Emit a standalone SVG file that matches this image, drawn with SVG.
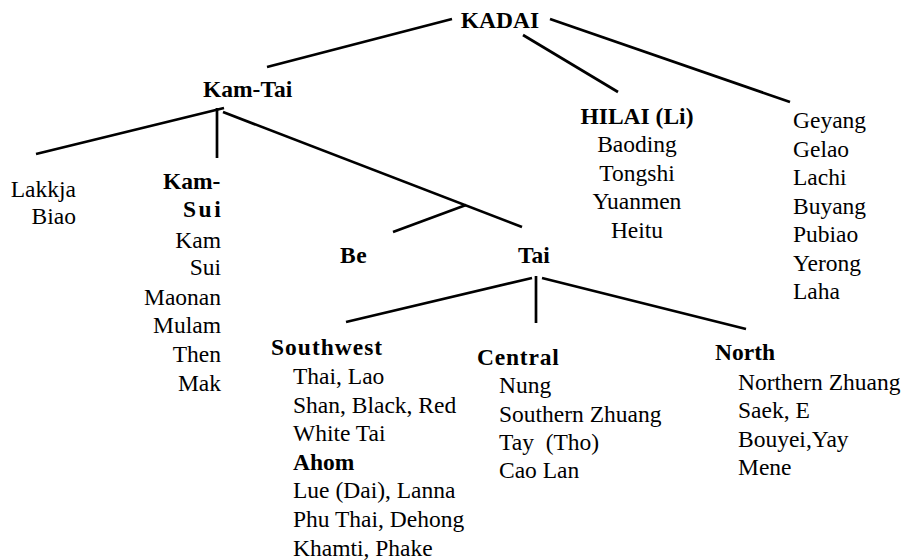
<svg xmlns="http://www.w3.org/2000/svg" width="907" height="560" viewBox="0 0 907 560">
<style>
text{font-family:'Liberation Serif','Times New Roman',serif;font-size:23.5px;fill:#000}
.b{font-weight:bold}
.e{text-anchor:end}
.m{text-anchor:middle}
.c line{stroke:#000;stroke-width:2.7;stroke-linecap:butt}
</style>
<rect width="907" height="560" fill="#fff"/>
<g class="c" id="connectors">
<line x1="452" y1="19" x2="267" y2="67"/>
<line x1="523" y1="35" x2="618" y2="92"/>
<line x1="550" y1="19" x2="790" y2="102"/>
<line x1="224" y1="108" x2="36" y2="154"/>
<line x1="217" y1="108" x2="217" y2="158"/>
<line x1="223" y1="112" x2="522" y2="227"/>
<line x1="393" y1="232" x2="466" y2="205"/>
<line x1="532" y1="278" x2="346" y2="322"/>
<line x1="536" y1="276" x2="536" y2="323"/>
<line x1="542" y1="278" x2="746" y2="329"/>
</g>
<g id="kadai"><text class="b m" x="500" y="28">KADAI</text></g>
<g id="kamtai"><text class="b" x="203" y="97">Kam-Tai</text></g>
<g id="hilai">
<text class="b m" x="637" y="124">HILAI (Li)</text>
<text class="m" x="637" y="152">Baoding</text>
<text class="m" x="637" y="181">Tongshi</text>
<text class="m" x="637" y="209">Yuanmen</text>
<text class="m" x="637" y="238">Heitu</text>
</g>
<g id="geyang">
<text x="793" y="128">Geyang</text>
<text x="793" y="157">Gelao</text>
<text x="793" y="185">Lachi</text>
<text x="793" y="214">Buyang</text>
<text x="793" y="242">Pubiao</text>
<text x="793" y="271">Yerong</text>
<text x="793" y="299">Laha</text>
</g>
<g id="lakkja">
<text class="e" x="76" y="197">Lakkja</text>
<text class="e" x="76" y="224">Biao</text>
</g>
<g id="kamsui">
<text class="b" x="163" y="189">Kam-</text>
<text class="b" x="183" y="217" letter-spacing="2.5">Sui</text>
<text class="e" x="221" y="248">Kam</text>
<text class="e" x="221" y="275">Sui</text>
<text class="e" x="221" y="305">Maonan</text>
<text class="e" x="221" y="333">Mulam</text>
<text class="e" x="221" y="362">Then</text>
<text class="e" x="221" y="391">Mak</text>
</g>
<g id="be"><text class="b" x="340" y="263" letter-spacing="0.5">Be</text></g>
<g id="tai"><text class="b" x="518" y="263">Tai</text></g>
<g id="southwest">
<text class="b" x="271" y="355" letter-spacing="1">Southwest</text>
<text x="293" y="384">Thai, Lao</text>
<text x="293" y="413">Shan, Black, Red</text>
<text x="293" y="441">White Tai</text>
<text class="b" x="293" y="470">Ahom</text>
<text x="293" y="498">Lue (Dai), Lanna</text>
<text x="293" y="527">Phu Thai, Dehong</text>
<text x="293" y="556">Khamti, Phake</text>
</g>
<g id="central">
<text class="b" x="477" y="365" letter-spacing="0.8">Central</text>
<text x="499" y="393">Nung</text>
<text x="499" y="422">Southern Zhuang</text>
<text x="499" y="450" xml:space="preserve">Tay  (Tho)</text>
<text x="499" y="478">Cao Lan</text>
</g>
<g id="north">
<text class="b" x="715" y="360">North</text>
<text x="738" y="390">Northern Zhuang</text>
<text x="738" y="418">Saek, E</text>
<text x="738" y="447">Bouyei,Yay</text>
<text x="738" y="475">Mene</text>
</g>
</svg>
